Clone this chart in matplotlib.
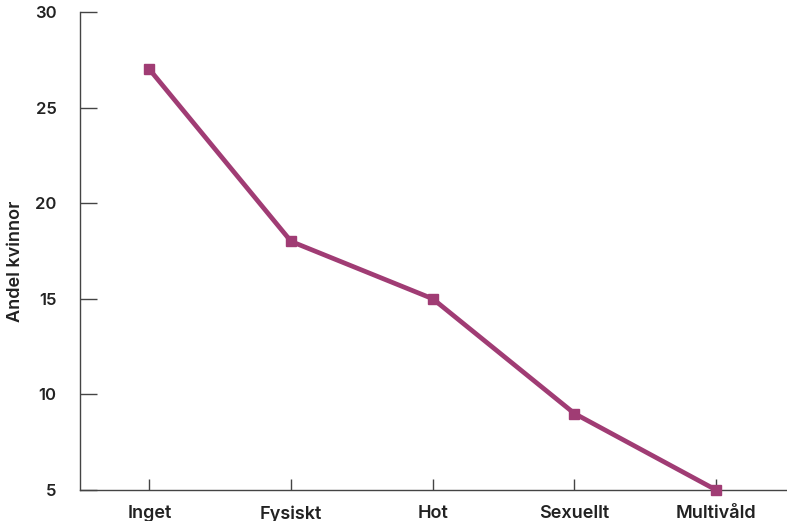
import matplotlib
matplotlib.use("Agg")
import matplotlib.pyplot as plt

categories = ["Inget", "Fysiskt", "Hot", "Sexuellt", "Multivåld"]
values = [27, 18, 15, 9, 5]
y_ticks = [5, 10, 15, 20, 25, 30]
y_label = "Andel kvinnor"

plt.rcParams['font.family'] = ['Inter', 'DejaVu Sans']

fig = plt.figure(figsize=(7.87, 5.21), dpi=100)
ax = fig.add_axes([80/787, 31/521, 1 - 80/787, 1 - 43/521])

color = "#a03c74"
x = list(range(len(categories)))
ax.plot(x, values, color=color, linewidth=3.4, marker="s", markersize=7,
        clip_on=False, zorder=3)

ax.set_xlim(-0.49, 4.5)
ax.set_ylim(5, 30)
ax.set_xticks(x)
ax.set_xticklabels(categories)
ax.set_yticks(y_ticks)
ax.set_yticklabels([str(v) for v in y_ticks])

for s in ["top", "right"]:
    ax.spines[s].set_visible(False)
for s in ["left", "bottom"]:
    ax.spines[s].set_color("#444444")
    ax.spines[s].set_linewidth(1.0)

ax.tick_params(axis="y", direction="in", length=12.5, width=1.0, color="#444444",
               pad=17, labelsize=12, labelcolor="#222222")
ax.tick_params(axis="x", direction="in", length=8, width=1.0, color="#444444",
               pad=11, labelsize=13, labelcolor="#222222")
for lab in ax.get_xticklabels() + ax.get_yticklabels():
    lab.set_fontweight("semibold")

ax.set_ylabel(y_label, fontsize=13, fontweight="semibold", color="#222222")
ax.yaxis.set_label_coords(-(80 - 24) / 707, 0.479)

fig.savefig("out.png", dpi=100)
